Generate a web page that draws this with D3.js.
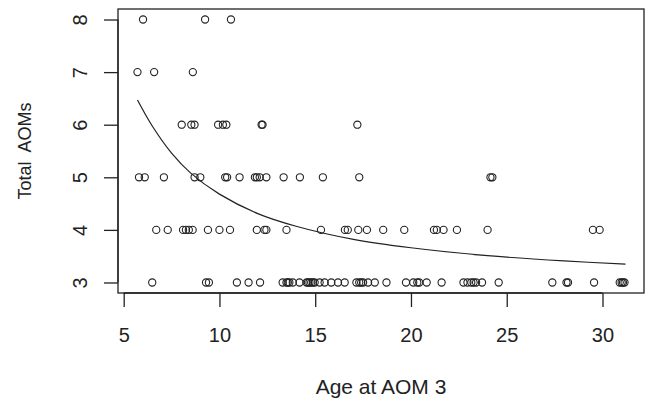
<!DOCTYPE html>
<html>
<head>
<meta charset="utf-8">
<script src="https://cdn.jsdelivr.net/npm/d3@7"></script>
<style>
  body { margin: 0; background: #fff; }
  text { font-family: "Liberation Sans", Arial, sans-serif; fill: #222; }
</style>
</head>
<body>
<svg id="chart" width="645" height="405"></svg>
<script>
// Scatter of Total AOMs vs Age at AOM 3, with fitted curve (R base-plot look)

// ages for each value of Total AOMs
const ages3 = [6.49, 9.3, 9.45, 10.91, 11.52, 12.12, 13.3, 13.5, 13.57, 13.65, 13.83, 14.18,
  14.55, 14.62, 14.7, 14.79, 14.88, 14.97, 15.23, 15.49, 15.84, 16.19, 16.54, 17.15, 17.3,
  17.4, 17.5, 17.76, 18.11, 18.72, 19.74, 20.12, 20.33, 20.43, 20.82, 21.6, 22.74, 22.95,
  23.15, 23.27, 23.4, 23.71, 24.58, 27.38, 28.12, 28.2, 29.56, 30.9, 31.0, 31.07, 31.15];
const ages4 = [6.7, 7.3, 8.1, 8.25, 8.4, 8.6, 9.4, 10.0, 10.55, 11.95, 12.35, 12.45, 13.5,
  15.3, 16.55, 16.7, 17.25, 17.7, 18.55, 19.65, 21.2, 21.35, 21.7, 22.4, 24.0, 29.5, 29.85];
const ages5 = [5.8, 6.1, 7.1, 8.7, 9.0, 10.3, 10.4, 11.05, 11.85, 11.95, 12.1, 12.45, 13.35,
  14.2, 15.4, 17.3, 24.15, 24.25];
const ages6 = [8.03, 8.53, 8.7, 9.93, 10.18, 10.36, 12.2, 12.25, 17.2];
const ages7 = [5.72, 6.59, 8.61];
const ages8 = [6.01, 9.25, 10.6];

const totals = [3, 4, 5, 6, 7, 8];
const agesByTotal = [ages3, ages4, ages5, ages6, ages7, ages8];

// fitted curve
const curveAge  = [5.72, 6.5, 7.5, 8.5, 10, 12, 14, 17, 20, 24, 28, 31.2];
const curveAOMs = [6.47, 5.97, 5.46, 5.08, 4.68, 4.31, 4.07, 3.82, 3.66, 3.51, 3.41, 3.35];

const xTicks = [5, 10, 15, 20, 25, 30];
const yTicks = [3, 4, 5, 6, 7, 8];

const points = [];
totals.forEach((t, i) => agesByTotal[i].forEach(a => points.push({ age: a, total: t })));

const box = { left: 118, right: 644, top: 9, bottom: 293 };
const tickFont = 20;
const ink = "#222";

const svg = d3.select("#chart");

// R style axis extension: 4% each side
const xExt = d3.extent(points, d => d.age);
const xPad = (xExt[1] - xExt[0]) * 0.04;
const x = d3.scaleLinear()
  .domain([xExt[0] - xPad, xExt[1] + xPad])
  .range([box.left, box.right]);

const yExt = d3.extent(points, d => d.total);
const yPad = (yExt[1] - yExt[0]) * 0.04;
const y = d3.scaleLinear()
  .domain([yExt[0] - yPad, yExt[1] + yPad])
  .range([box.bottom, box.top]);

// plot box
svg.append("rect")
  .attr("x", box.left).attr("y", box.top)
  .attr("width", box.right - box.left).attr("height", box.bottom - box.top)
  .attr("fill", "none").attr("stroke", ink).attr("stroke-width", 1.3);

// x axis
const gx = svg.append("g")
  .attr("transform", `translate(0,${box.bottom})`)
  .call(d3.axisBottom(x).tickValues(xTicks).tickFormat(d3.format("d")).tickSize(14).tickSizeOuter(0));
gx.select(".domain").attr("d", `M${x(xTicks[0])},0H${x(xTicks[xTicks.length - 1])}`);
gx.selectAll("line").attr("stroke", ink).attr("stroke-width", 1.3);
gx.select(".domain").attr("stroke", ink).attr("stroke-width", 1.3);
gx.selectAll("text")
  .attr("y", 49).attr("dy", null)
  .style("font-size", tickFont + "px").attr("fill", ink);

// y axis, labels parallel to the axis
const gy = svg.append("g")
  .attr("transform", `translate(${box.left},0)`)
  .call(d3.axisLeft(y).tickValues(yTicks).tickFormat(d3.format("d")).tickSize(14).tickSizeOuter(0));
gy.select(".domain").attr("d", `M0,${y(yTicks[0])}V${y(yTicks[yTicks.length - 1])}`);
gy.selectAll("line").attr("stroke", ink).attr("stroke-width", 1.3);
gy.select(".domain").attr("stroke", ink).attr("stroke-width", 1.3);
gy.selectAll("text")
  .attr("transform", "rotate(-90)")
  .attr("x", 0).attr("y", -31).attr("dy", null)
  .attr("text-anchor", "middle")
  .style("font-size", tickFont + "px").attr("fill", ink);

// axis titles
svg.append("text")
  .attr("x", (box.left + box.right) / 2).attr("y", 394)
  .attr("text-anchor", "middle")
  .style("font-size", "21px")
  .text("Age at AOM 3");

svg.append("text")
  .attr("transform", `translate(31,${(box.top + box.bottom) / 2}) rotate(-90)`)
  .attr("text-anchor", "middle")
  .style("font-size", "18px")
  .style("white-space", "pre")
  .text("Total  AOMs");

// points
svg.append("g").selectAll("circle")
  .data(points)
  .join("circle")
  .attr("cx", d => x(d.age))
  .attr("cy", d => y(d.total))
  .attr("r", 3.6)
  .attr("fill", "none")
  .attr("stroke", ink)
  .attr("stroke-width", 1.1);

// fitted curve
const line = d3.line()
  .x((d, i) => x(curveAge[i]))
  .y(d => y(d))
  .curve(d3.curveCatmullRom);

svg.append("path")
  .attr("d", line(curveAOMs))
  .attr("fill", "none")
  .attr("stroke", ink)
  .attr("stroke-width", 1.2);
</script>
</body>
</html>
